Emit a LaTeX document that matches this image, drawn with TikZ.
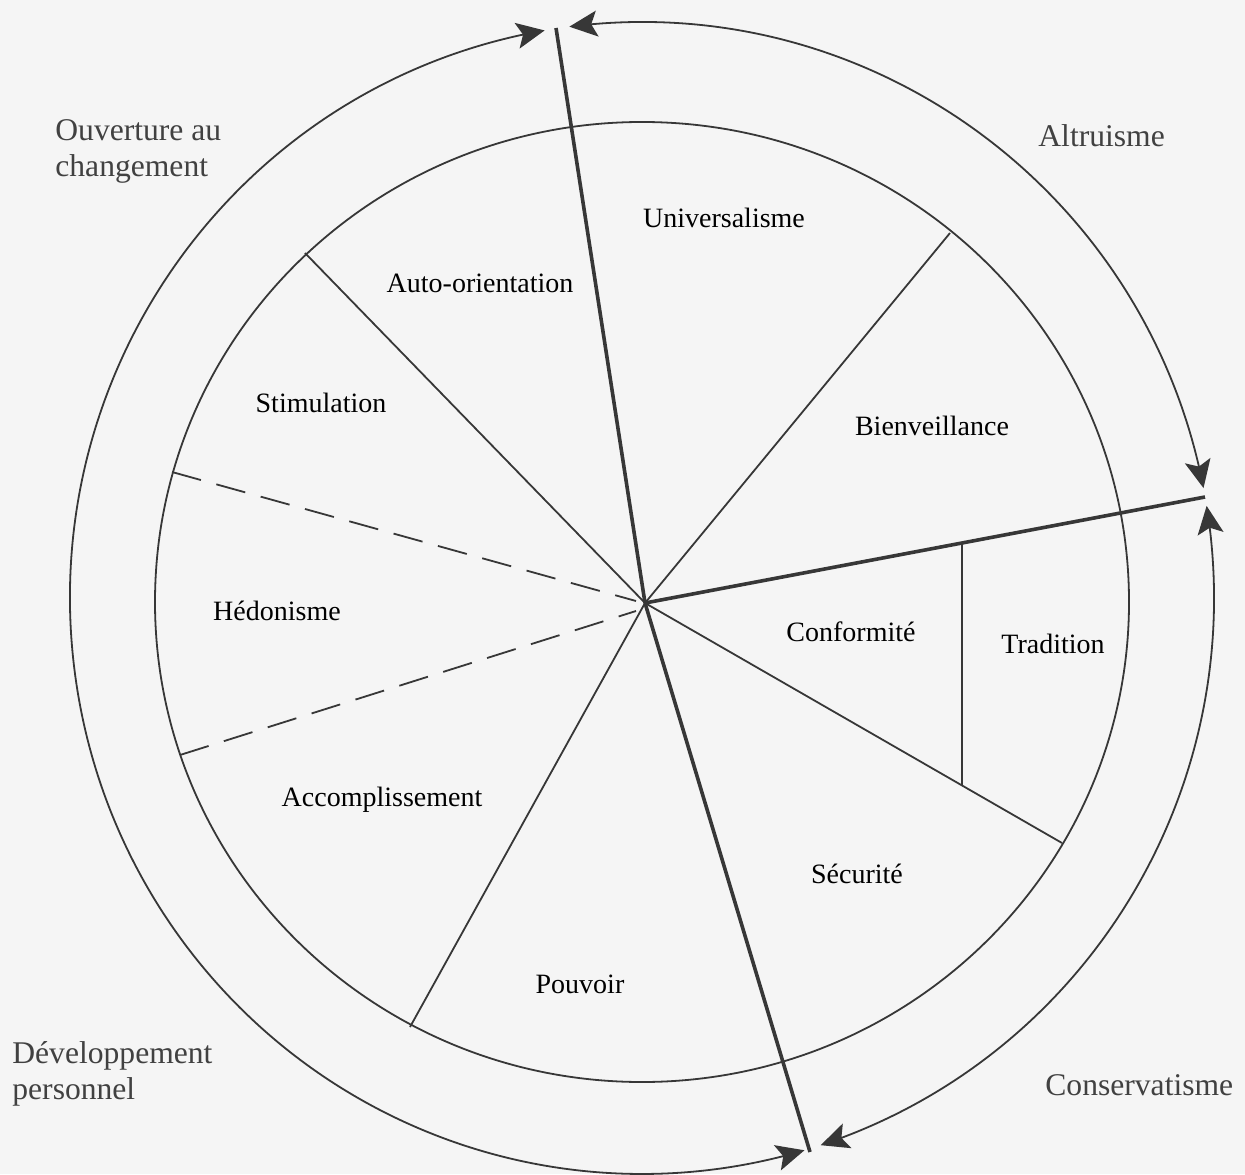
\documentclass[tikz,border=0pt]{standalone}
\usepackage{fontspec}
\setmainfont{Liberation Serif}
\usetikzlibrary{arrows.meta,calc,bending}
\definecolor{bg}{RGB}{245,245,245}
\definecolor{ink}{RGB}{55,55,55}
\definecolor{txt}{RGB}{65,65,65}
\begin{document}
\begin{tikzpicture}[x=0.5pt,y=0.5pt,
  thinspoke/.style={draw=ink,line width=0.9pt},
  thickspoke/.style={draw=ink,line width=1.8pt},
  ring/.style={draw=ink,line width=0.9pt},
  dashspoke/.style={draw=ink,line width=0.9pt,dash pattern=on 15pt off 8pt},
  tiparrow/.tip={Stealth[length=14pt,width=13pt,inset=3pt,flex]},
  arcarrow/.style={draw=ink,fill=none,line width=0.9pt,{tiparrow}-{tiparrow}},
  sector/.style={font=\fontsize{14}{16}\selectfont,text=black,inner sep=0pt,anchor=base},
  region/.style={font=\fontsize{15.8}{18}\selectfont,text=txt,align=left,inner sep=0pt}]
% background / bounding box
\fill[bg] (0,0) rectangle (1245,1174);
\useasboundingbox (0,0) rectangle (1245,1174);
% key points
\coordinate (O) at (642,576);   % outer ring centre
\coordinate (I) at (642,572);   % inner ring centre
\coordinate (C) at (645,571);   % spoke centre
\coordinate (P1) at (556,1146);
\coordinate (P2) at (305,921);
\coordinate (P3) at (950,941);
\coordinate (P4) at (1205,677);
\coordinate (P5) at (1062,331);
\coordinate (P6) at (810,22);
\coordinate (P7) at (410,147);
\coordinate (D1) at (172,702);
\coordinate (D1e) at (636,573);
\coordinate (D2) at (180,419);
\coordinate (D2e) at (636,563);
\coordinate (T1) at ($(C)!0.566!(P4)$);
\coordinate (T2) at ($(C)!0.760!(P5)$);
% inner ring
\draw[ring] (I) ellipse [x radius=487, y radius=480];
% outer ring: three arcs with arrows
\draw[arcarrow] ($(O)+(99.8:572 and 576)$) arc[start angle=99.8, end angle=286.5, x radius=572, y radius=576];
\draw[arcarrow] ($(O)+(97.3:572 and 576)$) arc[start angle=97.3, end angle=11, x radius=572, y radius=576];
\draw[arcarrow] ($(O)+(9.2:572 and 576)$) arc[start angle=9.2, end angle=-71.8, x radius=572, y radius=576];
% spokes
\draw[thinspoke] (C) -- (P2);
\draw[thinspoke] (C) -- (P3);
\draw[thinspoke] (C) -- (P5);
\draw[thinspoke] (C) -- (P7);
\draw[dashspoke] (D1) -- (D1e);
\draw[dashspoke] (D2) -- (D2e);
\draw[thinspoke] (T1) -- (T2);
\draw[thickspoke] (C) -- (P1);
\draw[thickspoke] (C) -- (P4);
\draw[thickspoke] (C) -- (P6);
% sector labels
\node[sector] (uni) at (724,946) {Universalisme};
\node[sector] (auto) at (480,881) {Auto-orientation};
\node[sector] (stim) at (321,761) {Stimulation};
\node[sector] (bien) at (932,738) {Bienveillance};
\node[sector] (hedo) at (277,554) {Hédonisme};
\node[sector] (conf) at (851,533) {Conformité};
\node[sector] (trad) at (1053,521) {Tradition};
\node[sector] (acc) at (382,368) {Accomplissement};
\node[sector] (secu) at (857,291) {Sécurité};
\node[sector] (pouv) at (580,181) {Pouvoir};
% region labels
\node[region,anchor=north west] (ouv) at (55,1055) {Ouverture au\\changement};
\node[region,anchor=base west] (alt) at (1038,1027) {Altruisme};
\node[region,anchor=north west] (dev) at (12,133) {Développement\\personnel};
\node[region,anchor=base west] (cons) at (1045,79) {Conservatisme};
\end{tikzpicture}
\end{document}
